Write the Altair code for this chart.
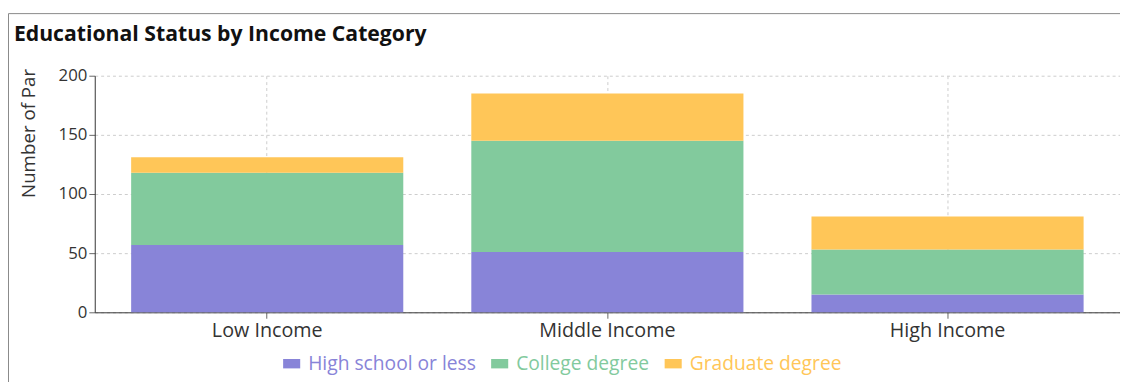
import altair as alt
import pandas as pd

categories = ["Low Income", "Middle Income", "High Income"]
series = ["High school or less", "College degree", "Graduate degree"]
high_school = [57, 51, 15]
college = [61, 94, 38]
graduate = [13, 40, 28]
colors = ["#8884d8", "#82ca9d", "#ffc658"]
y_ticks = [0, 50, 100, 150, 200]

rows = []
for i, c in enumerate(categories):
    for j, (s, vals) in enumerate(zip(series, [high_school, college, graduate])):
        rows.append({"category": c, "series": s, "value": vals[i], "order": j})
df = pd.DataFrame(rows)

FONT = "Open Sans"

label_color_expr = (
    f"datum.label == '{series[0]}' ? '{colors[0]}' : "
    f"datum.label == '{series[1]}' ? '{colors[1]}' : '{colors[2]}'"
)

bars = alt.Chart(df).mark_bar().encode(
    x=alt.X(
        "category:N",
        sort=categories,
        scale=alt.Scale(paddingInner=0.2, paddingOuter=0.107),
        axis=alt.Axis(
            title=None, labelAngle=0, labelFontSize=20, labelColor="#333",
            labelFont=FONT, domainColor="#333", tickColor="#666", tickSize=6,
            labelPadding=3, grid=True, gridDash=[3, 3], gridColor="#ccc",
            bandPosition=0.5,
        ),
    ),
    y=alt.Y(
        "value:Q",
        stack="zero",
        scale=alt.Scale(domain=[0, 200], nice=False),
        axis=alt.Axis(
            values=y_ticks, title="Number of Par", titleFont=FONT,
            titleFontSize=19, titleFontWeight="normal", titleColor="#333",
            titleX=-67, titleY=58, titleAlign="center", titleBaseline="middle",
            labelFontSize=17, labelColor="#333", labelFont=FONT,
            domainColor="#333", tickColor="#666", tickSize=6, labelPadding=2,
            grid=True, gridDash=[3, 3], gridColor="#ccc",
        ),
    ),
    color=alt.Color(
        "series:N",
        scale=alt.Scale(domain=series, range=colors),
        legend=alt.Legend(
            title=None, orient="none", direction="horizontal",
            legendX=190, legendY=282,
            symbolType="M-1,-0.55H1V0.55H-1Z", symbolSize=300,
            symbolStrokeWidth=0, labelFontSize=19.5, labelFont=FONT,
            labelLimit=400,
            labelColor={"expr": label_color_expr}, columnPadding=14,
            symbolOffset=0, labelOffset=7,
        ),
    ),
    order=alt.Order("order:Q", sort="ascending"),
)

frame_left = alt.Chart(alt.Data(values=[{"a": 1}])).mark_rule(
    color="#888", strokeWidth=1
).encode(x=alt.value(-87.5), y=alt.value(-63), y2=alt.value(400))

frame_top = alt.Chart(alt.Data(values=[{"a": 1}])).mark_rule(
    color="#888", strokeWidth=1
).encode(x=alt.value(-87.5), x2=alt.value(1045), y=alt.value(-63))

chart = alt.layer(frame_left, frame_top, bars).properties(
    width=1040,
    height=240,
    title=alt.TitleParams(
        "Educational Status by Income Category",
        anchor="start", frame="group", dx=-82, dy=64, offset=31, fontSize=21.5,
        fontWeight="bold", font=FONT, color="#111",
    ),
    autosize=alt.AutoSizeParams(type="none"),
    padding={"left": 88, "top": 66, "right": 0, "bottom": 68},
).configure_view(stroke=None)

chart.save("out.html", embed_options={"renderer": "svg", "actions": False})
